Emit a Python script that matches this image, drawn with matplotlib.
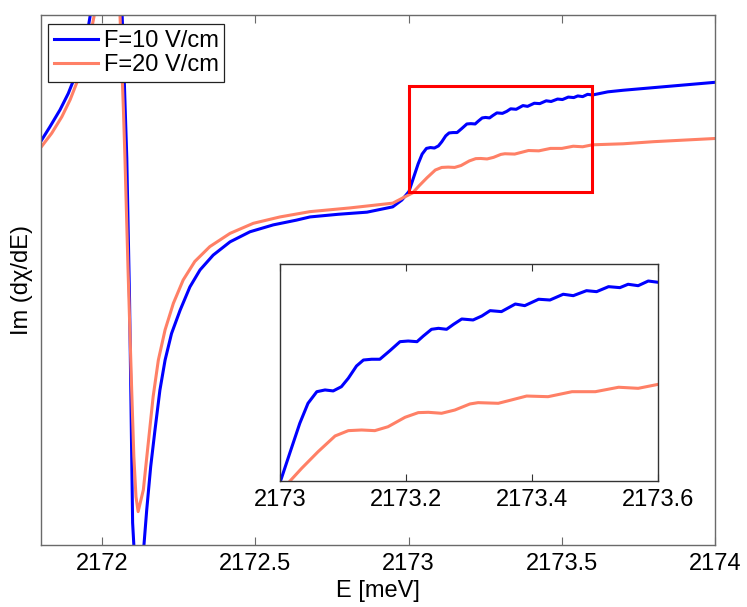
import numpy as np
import matplotlib
matplotlib.use("Agg")
import matplotlib.pyplot as plt
from matplotlib.patches import Rectangle

plt.rcParams['font.family'] = ['Liberation Sans', 'DejaVu Sans']

# energies [meV] and Im(dchi/dE) in arbitrary units
e_blue = [2171.802, 2171.829, 2171.862, 2171.889, 2171.911, 2171.933, 2171.949,
          2171.960, 2171.975, 2171.995, 2172.020, 2172.040, 2172.055, 2172.065,
          2172.080, 2172.089, 2172.099, 2172.103, 2172.120, 2172.136, 2172.145,
          2172.158, 2172.172, 2172.188, 2172.205, 2172.226, 2172.254, 2172.286,
          2172.319, 2172.362, 2172.417, 2172.482, 2172.558, 2172.634, 2172.678,
          2172.770, 2172.864, 2172.948, 2172.978,
          2173.001, 2173.015, 2173.031, 2173.044, 2173.058, 2173.071, 2173.084,
          2173.097, 2173.108, 2173.121, 2173.132, 2173.145, 2173.158, 2173.174,
          2173.190, 2173.203, 2173.217, 2173.227, 2173.240, 2173.251, 2173.264,
          2173.275, 2173.288, 2173.306, 2173.320, 2173.333, 2173.351, 2173.373,
          2173.388, 2173.410, 2173.428, 2173.449, 2173.465, 2173.486, 2173.502,
          2173.521, 2173.539, 2173.552, 2173.568, 2173.584, 2173.600,
          2173.650, 2173.700, 2173.800, 2173.900, 2174.000]
im_blue = [0.764, 0.789, 0.821, 0.852, 0.884, 0.921, 0.959,
           0.997, 1.150, 1.500, 2.100, 2.300, 1.600, 0.997,
           0.730, 0.462, 0.042, 0.000, -0.060, 0.000, 0.066,
           0.148, 0.217, 0.292, 0.349, 0.399, 0.443, 0.487,
           0.519, 0.547, 0.572, 0.591, 0.604, 0.613, 0.619,
           0.624, 0.628, 0.638, 0.651,
           0.667, 0.6915, 0.7192, 0.7376, 0.7483, 0.7499, 0.7490,
           0.7529, 0.7607, 0.7720, 0.7775, 0.7782, 0.7782, 0.7861,
           0.7944, 0.7950, 0.7944, 0.7996, 0.8058, 0.8067, 0.8058,
           0.8104, 0.8153, 0.8144, 0.8181, 0.8230, 0.8221, 0.8291,
           0.8276, 0.8335, 0.8328, 0.8381, 0.8368, 0.8414, 0.8405,
           0.8451, 0.8442, 0.8473, 0.8460, 0.8503, 0.8491,
           0.855, 0.858, 0.863, 0.868, 0.873]

e_orange = [2171.802, 2171.835, 2171.868, 2171.895, 2171.916, 2171.938, 2171.958,
            2171.973, 2171.990, 2172.010, 2172.030, 2172.045, 2172.053, 2172.058,
            2172.063, 2172.069, 2172.074, 2172.084, 2172.096, 2172.103, 2172.110,
            2172.117, 2172.134, 2172.150, 2172.166, 2172.183, 2172.205, 2172.232,
            2172.264, 2172.302, 2172.351, 2172.417, 2172.493, 2172.580, 2172.678,
            2172.808, 2172.948, 2172.988,
            2173.013, 2173.034, 2173.060, 2173.087, 2173.108, 2173.129, 2173.150,
            2173.171, 2173.198, 2173.219, 2173.235, 2173.256, 2173.277, 2173.301,
            2173.314, 2173.346, 2173.367, 2173.391, 2173.425, 2173.463, 2173.500,
            2173.537, 2173.568, 2173.600,
            2173.700, 2173.800, 2173.900, 2174.000]
im_orange = [0.752, 0.777, 0.808, 0.840, 0.871, 0.909, 0.953,
             0.997, 1.200, 1.500, 1.900, 2.000, 1.500, 0.997,
             0.915, 0.821, 0.730, 0.521, 0.292, 0.167, 0.091,
             0.063, 0.104, 0.192, 0.280, 0.349, 0.406, 0.456,
             0.500, 0.535, 0.563, 0.588, 0.607, 0.619, 0.629,
             0.636, 0.645, 0.657,
             0.6644, 0.6777, 0.6930, 0.7075, 0.7124, 0.7130, 0.7124,
             0.7160, 0.7247, 0.7290, 0.7293, 0.7284, 0.7314, 0.7370,
             0.7382, 0.7376, 0.7407, 0.7443, 0.7437, 0.7483, 0.7483,
             0.7524, 0.7514, 0.7551,
             0.757, 0.761, 0.764, 0.767]

labels = ["F=10 V/cm", "F=20 V/cm"]
main_ticks = [2172, 2172.5, 2173, 2173.5, 2174]
main_ticklabels = ["2172", "2172.5", "2173", "2173.5", "2174"]
inset_ticks = [2173, 2173.2, 2173.4, 2173.6]
inset_ticklabels = ["2173", "2173.2", "2173.4", "2173.6"]

main_xlim = (2171.8, 2174)
main_ylim = (0, 1)
zoom_xlim = (2173, 2173.6)
zoom_ylim = (0.666, 0.866)

blue = '#0000ff'
orange = '#ff8066'
spine_col = '#6a6a6a'
fs = 17

fig = plt.figure(figsize=(7.47, 6.07), dpi=100)
ax = fig.add_axes([0.0549, 0.1021, 0.9023, 0.8732])
ax.plot(e_blue, im_blue, color=blue, lw=2.2, label=labels[0])
ax.plot(e_orange, im_orange, color=orange, lw=2.2, label=labels[1])
ax.set_xlim(main_xlim)
ax.set_ylim(main_ylim)
ax.set_xticks(main_ticks)
ax.set_xticklabels(main_ticklabels)
ax.set_yticks([])
ax.tick_params(axis='x', direction='in', top=True, length=6, width=0.8,
               color=spine_col, labelsize=fs, pad=6)
for s in ax.spines.values():
    s.set_color(spine_col)
    s.set_linewidth(1.0)
ax.set_xlabel("E [meV]", fontsize=fs, labelpad=3)
ax.set_ylabel("Im (d\u03c7/dE)", fontsize=fs, labelpad=6)

leg = ax.legend(loc='upper left', bbox_to_anchor=(0.0104, 0.983), borderaxespad=0,
                fontsize=fs, fancybox=False, framealpha=1, edgecolor='#222222',
                handlelength=1.85, handletextpad=0.25, labelspacing=0.1,
                borderpad=0.25)
leg.get_frame().set_linewidth(0.9)

# red box marking the zoomed region
ax.add_patch(Rectangle((zoom_xlim[0], zoom_ylim[0]), zoom_xlim[1] - zoom_xlim[0],
                       zoom_ylim[1] - zoom_ylim[0], fill=False, edgecolor='#ff0000',
                       lw=2.2, zorder=5))

ins = fig.add_axes([0.3752, 0.2076, 0.5061, 0.3575])
ins.plot(e_blue, im_blue, color=blue, lw=2.2)
ins.plot(e_orange, im_orange, color=orange, lw=2.2)
ins.set_xlim(zoom_xlim)
ins.set_ylim(zoom_ylim)
ins.set_xticks(inset_ticks)
ins.set_xticklabels(inset_ticklabels)
ins.set_yticks([])
ins.tick_params(axis='x', direction='in', top=True, length=5, width=0.8,
                color='#333333', labelsize=fs, pad=6)
for s in ins.spines.values():
    s.set_color('#333333')
    s.set_linewidth(1.0)

fig.savefig("out.png", dpi=100)
